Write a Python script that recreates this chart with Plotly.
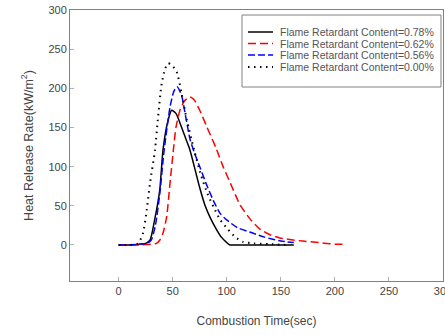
import plotly.graph_objects as go

# Heat release rate curves for four flame-retardant contents
labels = [
    "Flame Retardant Content=0.78%",
    "Flame Retardant Content=0.62%",
    "Flame Retardant Content=0.56%",
    "Flame Retardant Content=0.00%",
]

time_078 = [0, 10, 20, 25, 29, 33, 38, 41, 45, 49, 53, 58, 62, 66, 70, 75, 80, 85, 90, 95, 100, 103, 110, 130, 162]
hrr_078 = [0, 0, 1, 2, 6, 30, 70, 121, 155, 172, 168, 151, 136, 121, 100, 73, 50, 34, 21, 10, 3, 0, 0, 0, 0]

time_062 = [0, 10, 20, 30, 35, 38, 41, 44.4, 47.5, 50.6, 53, 56.7, 61, 66, 70, 75, 81.5, 90, 96.6, 103, 112,
            121.6, 131, 140, 149, 158, 170, 185, 200, 207]
hrr_062 = [0, 0, 0, 1, 2, 6, 15, 36, 79, 121, 150, 172, 184, 189, 185, 172, 151, 124, 100, 80, 52,
           33, 20, 13, 9, 7, 5, 3, 1, 1]

time_056 = [0, 10, 20, 26, 30, 34, 38, 42, 47.5, 51, 54, 58, 62, 66, 70, 75, 81, 87.5, 94, 100, 110,
            124.5, 135, 150, 162]
hrr_056 = [0, 0, 1, 2, 6, 25, 65, 120, 176, 196, 202, 192, 164, 135, 118, 100, 78, 57, 40, 32, 22,
           15, 10, 5, 3]

time_000 = [0, 10, 18, 22.5, 26, 29, 33.6, 36.5, 39.8, 43, 45.7, 49, 53.7, 58, 63, 70, 76, 82, 88, 94,
            101, 108, 115, 125, 140, 155]
hrr_000 = [0, 0, 2, 15, 45, 79, 121, 164, 206, 225, 232, 230, 221, 195, 160, 120, 90, 66, 48, 32,
           20, 10, 4, 2, 1, 0]

x_ticks = [0, 50, 100, 150, 200, 250, 300]
y_ticks = [0, 50, 100, 150, 200, 250, 300]

series = [
    (time_078, hrr_078, "#000000", "solid", 1.5),
    (time_062, hrr_062, "#ff0000", "8px,4px", 1.5),
    (time_056, hrr_056, "#0000ff", "7px,3px", 1.5),
    (time_000, hrr_000, "#000000", "1.5px,4.5px", 2),
]

W, H = 445, 335
ML, MR, MT, MB = 70, 2, 10, 54
PW, PH = W - ML - MR, H - MT - MB

fig = go.Figure()
for (t, q, color, dash, width), name in zip(series, labels):
    fig.add_trace(go.Scatter(
        x=t, y=q, mode="lines", name=name, showlegend=False,
        line=dict(color=color, dash=dash, width=width, shape="spline", smoothing=0.6),
    ))


def px_x(p):
    return (p - ML) / PW


def px_y(p):
    return 1 - (p - MT) / PH


# Boxed key in the upper right corner of the plot area
shapes = [dict(type="rect", xref="paper", yref="paper",
               x0=px_x(242), x1=px_x(441), y0=px_y(87), y1=px_y(15),
               line=dict(color="#808080", width=1), fillcolor="white", layer="above")]
annotations = []
entry_rows = [32, 43.5, 55, 67]
for (t, q, color, dash, width), name, row in zip(series, labels, entry_rows):
    shapes.append(dict(type="line", xref="paper", yref="paper",
                       x0=px_x(248), x1=px_x(273), y0=px_y(row), y1=px_y(row),
                       line=dict(color=color, dash=dash, width=width), layer="above"))
    annotations.append(dict(xref="paper", yref="paper", x=px_x(278), y=px_y(row),
                            xanchor="left", yanchor="middle", showarrow=False, text=name,
                            font=dict(size=10.5, color="#555555")))

axis_common = dict(
    showline=True, linecolor="#808080", linewidth=1, mirror=True,
    ticks="inside", ticklen=4, tickcolor="#b0b0b0",
    showgrid=False, zeroline=False, ticklabeloverflow="allow", automargin=False,
    tickfont=dict(family="Liberation Sans, Arial", size=11, color="#444444"),
)

fig.update_layout(
    width=W, height=H,
    margin=dict(l=ML, r=MR, t=MT, b=MB),
    paper_bgcolor="white", plot_bgcolor="white",
    font=dict(family="Liberation Sans, Arial", color="#444444"),
    xaxis=dict(range=[-45, 300], tickvals=x_ticks,
               title=dict(text="Combustion Time(sec)", standoff=20,
                          font=dict(size=12, color="#444444")),
               **axis_common),
    yaxis=dict(range=[-46, 300], tickvals=y_ticks,
               title=dict(text="Heat Release Rate(kW/m<sup>2</sup>)", standoff=12,
                          font=dict(size=12.5, color="#444444")),
               **axis_common),
    shapes=shapes,
    annotations=annotations,
)

fig.write_html("out.html")
